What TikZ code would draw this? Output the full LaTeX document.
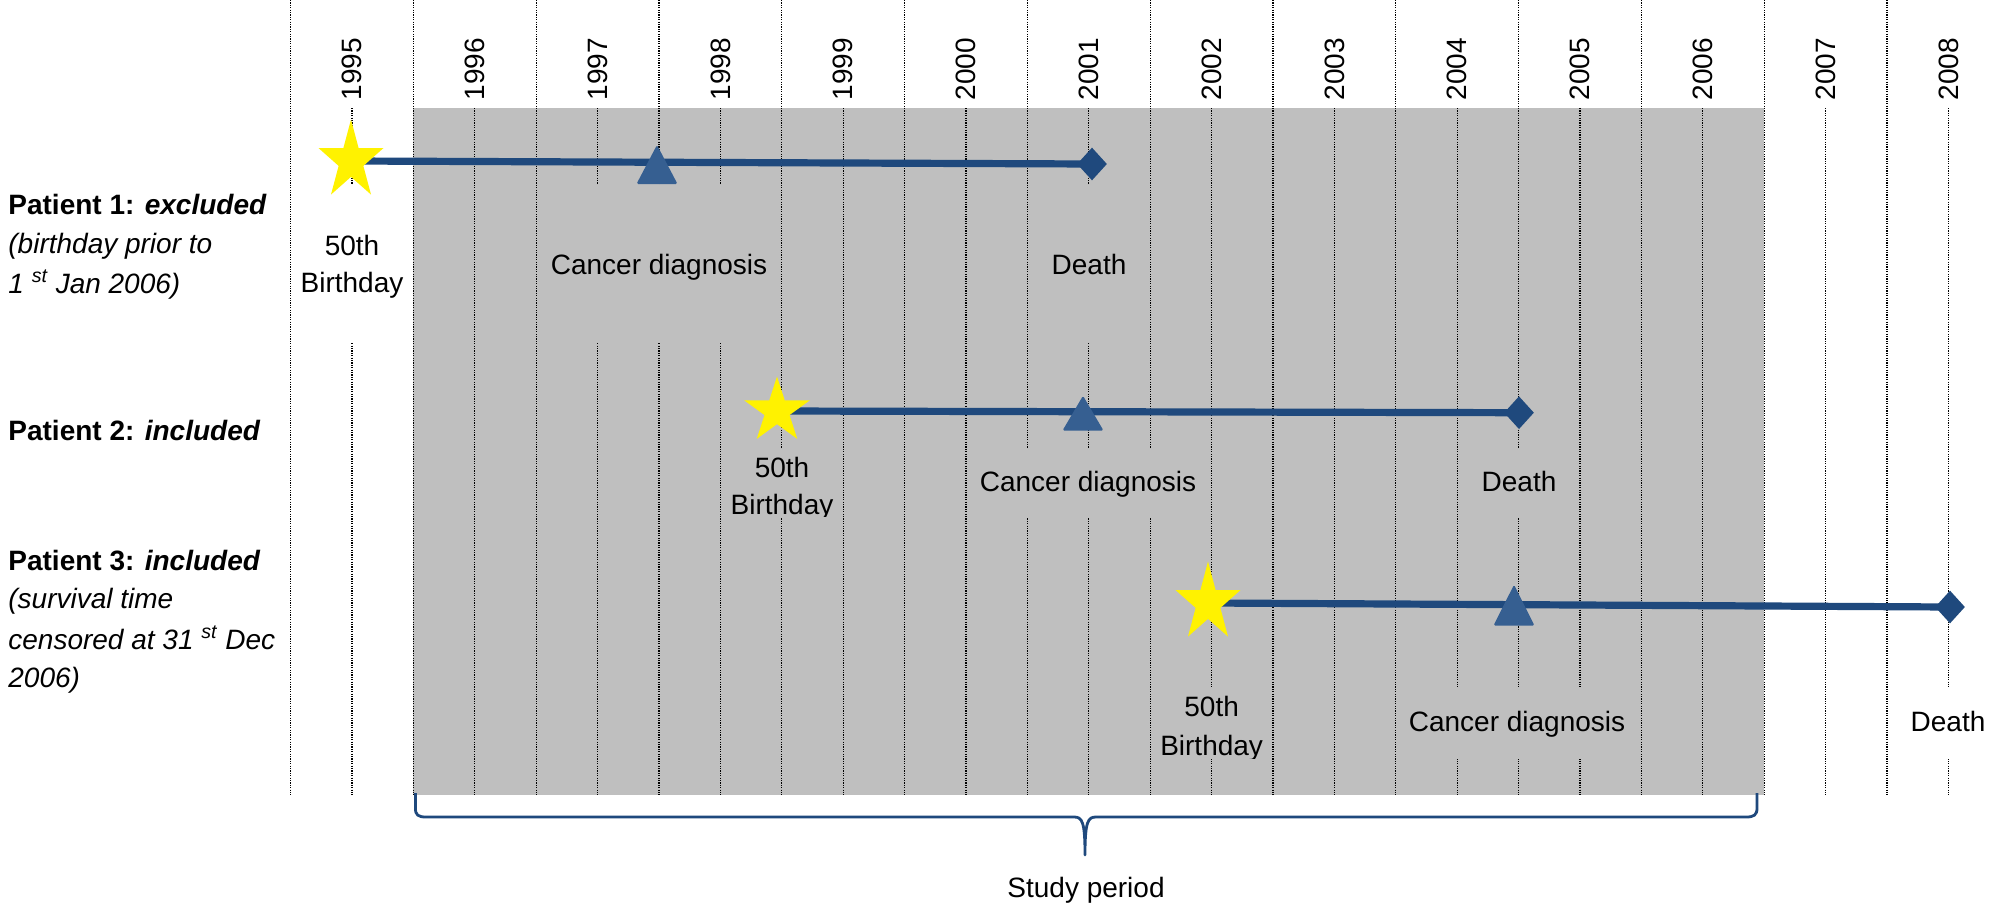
\documentclass[tikz,border=0pt]{standalone}
\usepackage{fontspec}
\setmainfont{Liberation Sans}
\usetikzlibrary{shapes.geometric}
\definecolor{bggray}{RGB}{191,191,191}
\definecolor{navy}{RGB}{31,73,125}
\definecolor{trib}{RGB}{54,95,145}
\pgfdeclarelayer{bg}
\pgfdeclarelayer{mid}
\pgfsetlayers{bg,mid,main}
\tikzset{
  fs/.style={font=\fontsize{14pt}{17pt}\selectfont},
  lbl/.style={fs, inner sep=0pt, anchor=base},
  yr/.style={fs, inner sep=0pt, rotate=90, anchor=center},
  ptxt/.style={fs, inner sep=0pt, anchor=base west},
  dotl/.style={line width=0.6pt, dash pattern=on 0.6pt off 0.6pt, black},
  pline/.style={navy, line width=3.6pt},
  starm/.style={star, star points=5, star point ratio=2.618, fill=yellow, inner sep=0pt, draw=none},
  trim/.style={regular polygon, regular polygon sides=3, fill=trib, inner sep=0pt, minimum size=23.7pt, rounded corners=0.8pt},
  diam/.style={diamond, fill=navy, inner sep=0pt, minimum width=15pt, minimum height=16.5pt},
  bracel/.style={navy, line width=1.4pt, line join=round},
}
\begin{document}
\begin{tikzpicture}[x=0.5pt,y=-0.5pt]
\useasboundingbox (0,0) rectangle (2008,910);
\begin{pgfonlayer}{bg}
\fill[white] (0,0) rectangle (2008,910);
\fill[bggray] (413.4,108) rectangle (1764.2,795);
\foreach \i in {0,...,13}{
  \draw[dotl] ({290.6+122.8*\i},0) -- ({290.6+122.8*\i},795);
  \draw[dotl] ({352+122.8*\i},108) -- ({352+122.8*\i},795);
}
% label boxes hiding the grid lines
\fill[white] (296,185) rectangle (408,343);
\fill[bggray] (547,185) rectangle (771,343);
\fill[bggray] (1050,185) rectangle (1130,343);
\fill[bggray] (728,448) rectangle (838,517);
\fill[bggray] (976,448) rectangle (1201,517);
\fill[bggray] (1480,448) rectangle (1558,517);
\fill[bggray] (1158,687) rectangle (1266,759);
\fill[bggray] (1408,687) rectangle (1628,759);
\fill[white] (1910,687) rectangle (1988,759);
\end{pgfonlayer}

% year labels
\foreach \i in {0,...,13}{
  \pgfmathtruncatemacro{\yr}{1995+\i}
  \node[yr] (y\yr) at ({352+122.8*\i},69) {\yr};
}

% markers
\node[starm, minimum size=41.5pt, xscale=0.82] (s1) at (351,161) {};
\node[trim, yscale=1.1] (c1) at (657,171) {};
\node[diam] (d1) at (1092,164) {};
\node[starm, minimum size=34.5pt] (s2) at (777,411) {};
\node[trim, yscale=0.98] (c2) at (1083,419) {};
\node[diam] (d2) at (1519,412.7) {};
\node[starm, minimum size=41.5pt, xscale=0.82] (s3) at (1208,603) {};
\node[trim, yscale=1.15] (c3) at (1514,612) {};
\node[diam] (d3) at (1950,607) {};

\begin{pgfonlayer}{mid}
\draw[pline] (s1.center) -- (d1.center);
\draw[pline] (s2.center) -- (d2.center);
\draw[pline] (s3.center) -- (d3.center);
\end{pgfonlayer}

% event labels
\node[lbl] (b1a) at (352,255) {50th};
\node[lbl] (b1b) at (352,292) {Birthday};
\node[lbl] (cd1) at (659,274) {Cancer diagnosis};
\node[lbl] (de1) at (1089,274) {Death};

\node[lbl] (b2a) at (782,477) {50th};
\begin{scope}
\clip (700,440) rectangle (870,516);
\node[lbl] (b2b) at (782,514) {Birthday};
\end{scope}
\node[lbl] (cd2) at (1088,491.7) {Cancer diagnosis};
\node[lbl] (de2) at (1519,491.7) {Death};

\node[lbl] (b3a) at (1211.6,716.7) {50th};
\begin{scope}
\clip (1130,680) rectangle (1300,758);
\node[lbl] (b3b) at (1211.6,755) {Birthday};
\end{scope}
\node[lbl] (cd3) at (1517,731.7) {Cancer diagnosis};
\node[lbl] (de3) at (1948,731.7) {Death};

% patient texts
\node[ptxt] (p1a) at (8,214) {\textbf{Patient 1: \textit{excluded}}};
\node[ptxt] (p1b) at (8,253.5) {\textit{(birthday prior to}};
\node[ptxt] (p1c) at (8,293) {\textit{1 \textsuperscript{st} Jan 2006)}};
\node[ptxt] (p2a) at (8,440) {\textbf{Patient 2: \textit{included}}};
\node[ptxt] (p3a) at (8,570) {\textbf{Patient 3: \textit{included}}};
\node[ptxt] (p3b) at (8,608.5) {\textit{(survival time}};
\node[ptxt] (p3c) at (8,649) {\textit{censored at 31 \textsuperscript{st} Dec}};
\node[ptxt] (p3d) at (8,687.5) {\textit{2006)}};

% study period brace
\coordinate (bl) at (415.4,793);
\coordinate (br) at (1757,793);
\coordinate (bt) at (1085,855);
\draw[bracel] (bl) -- (415.4,808) .. controls (415.4,815) and (418,817) .. (426,817)
  -- (1074,817) .. controls (1082,817) and (1085,821) .. (bt)
  .. controls (1085,821) and (1088,817) .. (1096,817)
  -- (1746,817) .. controls (1754,817) and (1757,815) .. (1757,808) -- (br);
\node[lbl] (sp) at (1086,897) {Study period};
\end{tikzpicture}
\end{document}
